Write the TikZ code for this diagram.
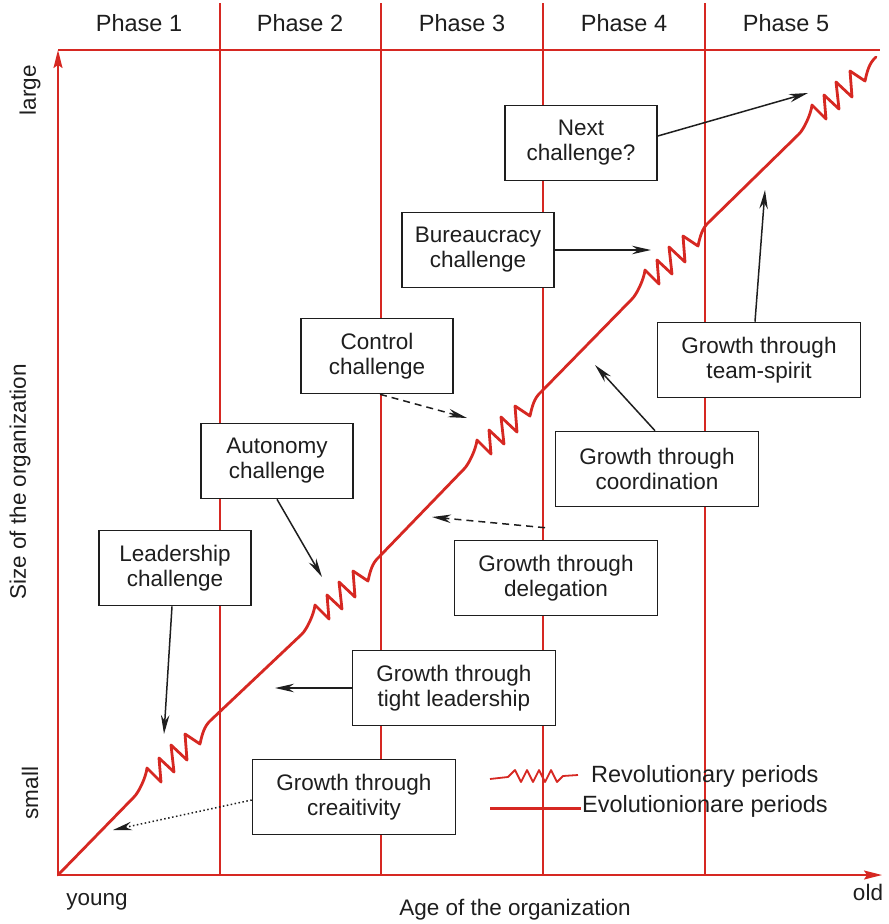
\documentclass[tikz,border=0pt]{standalone}
\usepackage{fontspec}
\setmainfont{Liberation Sans}
\usetikzlibrary{arrows.meta}
\definecolor{axisred}{RGB}{214,40,34}
\definecolor{ink}{RGB}{30,30,30}

\begin{document}
\begin{tikzpicture}[x=1pt,y=-1pt,
  redline/.style={draw=axisred, line width=1.8pt},
  curve/.style={draw=axisred, line width=2.8pt, line join=round, line cap=round},
  box/.style={draw=ink, line width=1.6pt, fill=white, align=center, text=ink,
    font=\fontsize{22.5}{25}\selectfont, inner sep=0pt, minimum height=75pt},
  chbox/.style={box, minimum width=152pt},
  grbox/.style={box, minimum width=203pt},
  txt/.style={text=ink, font=\fontsize{22.5}{25}\selectfont, inner sep=0pt},
  phasetxt/.style={txt, font=\fontsize{23.5}{26}\selectfont},
  pointer/.style={draw=ink, line width=1.5pt, -{Stealth[length=19pt,width=8.5pt]}},
  axisarrow/.style={redline, -{Stealth[length=18pt,width=9pt,inset=3pt]}},
  pics/revol/.style={code={
    \draw[curve] (-13,29) .. controls (-8,24) and (-1,9) .. (0,0)
      -- (14,14) -- (12,-10) -- (27,4) -- (24,-23) -- (40,-8) -- (38,-34) -- (53,-24)
      .. controls (55,-33) and (57,-42) .. (64,-48);
  }},
]
\useasboundingbox (0,0) rectangle (889,924);

% phase separators and frame
\foreach \px in {220,381,543,705}
  \draw[redline] (\px,3) -- (\px,875);
\draw[redline] (58,50) -- (880,50);
\draw[axisarrow] (58,875) -- (58,50);
\draw[axisarrow] (58,875) -- (882,875);

% phase titles
\node[phasetxt] at (139,23) {Phase 1};
\node[phasetxt] at (300,23) {Phase 2};
\node[phasetxt] at (462,23) {Phase 3};
\node[phasetxt] at (624,23) {Phase 4};
\node[phasetxt] at (786,23) {Phase 5};

% axis labels
\node[txt, rotate=90] at (30,90) {large};
\node[txt, rotate=90] at (30,793) {small};
\node[txt, rotate=90] at (20,482) {Size of the organization};
\node[txt] at (97,902) {young};
\node[txt] at (868,892) {old};
\node[txt] at (515,910) {Age of the organization};

% evolutionary stretches
\draw[curve] (58,875) -- (134,797);
\draw[curve] (211,720) -- (302,634);
\draw[curve] (379,557) -- (464,469);
\draw[curve] (541,392) -- (632,299);
\draw[curve] (709,222) -- (799,134);
% revolutionary stretches
\pic at (147,768) {revol};
\pic at (315,605) {revol};
\pic at (477,440) {revol};
\pic at (645,270) {revol};
\pic at (812,105) {revol};

% arrow targets on the growth curve
\coordinate (tLead) at (164,734);
\coordinate (tAuto) at (322,577);
\coordinate (tCtrl) at (467,418);
\coordinate (tBuro) at (651,250);
\coordinate (tNext) at (808,93);
\coordinate (tTeam) at (765,190);
\coordinate (tCoor) at (595,365);
\coordinate (tDele) at (432,517);
\coordinate (tTight) at (275,688);
\coordinate (tCrea) at (113,830);

% challenge boxes
\node[chbox] (lead) at (175,568) {Leadership\\challenge};
\node[chbox] (auto) at (277,461) {Autonomy\\challenge};
\node[chbox] (ctrl) at (377,356) {Control\\challenge};
\node[chbox] (buro) at (478,250) {Bureaucracy\\challenge};
\node[chbox] (next) at (581,143) {Next\\challenge?};

% growth boxes
\node[grbox] (team) at (759,360) {Growth through\\team-spirit};
\node[grbox] (coor) at (657,469) {Growth through\\coordination};
\node[grbox] (dele) at (556,578) {Growth through\\delegation};
\node[grbox] (tight) at (454,688) {Growth through\\tight leadership};
\node[grbox] (crea) at (354,797) {Growth through\\creaitivity};

% pointers
\draw[pointer] ([xshift=-3pt]lead.south) -- (tLead);
\draw[pointer] (auto.south) -- (tAuto);
\draw[pointer, dash pattern=on 7pt off 5pt] ([xshift=3pt]ctrl.south) -- (tCtrl);
\draw[pointer] (buro.east) -- (tBuro);
\draw[pointer] ([yshift=7pt]next.east) -- (tNext);
\draw[pointer] ([xshift=-4pt]team.north) -- (tTeam);
\draw[pointer] ([xshift=-2pt]coor.north) -- (tCoor);
\draw[pointer, dash pattern=on 7pt off 5pt] ([shift={(-11pt,12pt)}]dele.north) -- (tDele);
\draw[pointer] (tight.west) -- (tTight);
\draw[pointer, dash pattern=on 1.5pt off 2.5pt] ([yshift=-3pt]crea.west) -- (tCrea);

% legend
\draw[axisred, line width=1.8pt, line join=round]
  (490,779) -- (508,777) -- (515,770) -- (521,782) -- (527,770) -- (533,782)
  -- (539,770) -- (545,782) -- (551,770) -- (557,782) -- (563,776) -- (578,775);
\draw[axisred, line width=3pt] (490,808) -- (581,808);
\node[txt, anchor=west, font=\fontsize{23.5}{26}\selectfont] (revtxt) at (591,776) {Revolutionary periods};
\node[txt, anchor=west, font=\fontsize{23.5}{26}\selectfont] (evotxt) at (582,806) {Evolutionionare periods};
\end{tikzpicture}
\end{document}
